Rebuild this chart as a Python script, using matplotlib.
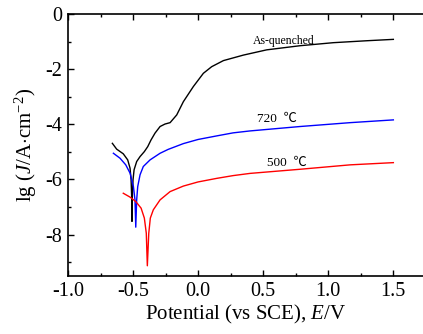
import matplotlib
matplotlib.use('Agg')
import matplotlib.pyplot as plt
from matplotlib.ticker import MultipleLocator

# values (E in V vs SCE, lg J)
aq_E = [-0.659, -0.626, -0.575, -0.541, -0.523, -0.515, -0.510, -0.508, -0.506,
        -0.500, -0.492, -0.472, -0.446, -0.413, -0.387, -0.362, -0.331, -0.292,
        -0.254, -0.215, -0.164, -0.113, -0.036, 0.041, 0.105, 0.195, 0.349,
        0.528, 0.785, 1.041, 1.297, 1.502]
aq_lg = [-4.69, -4.90, -5.07, -5.29, -5.59, -6.01, -6.68, -7.52, -6.68,
         -6.01, -5.65, -5.35, -5.17, -4.99, -4.81, -4.57, -4.32, -4.08,
         -3.99, -3.94, -3.66, -3.18, -2.63, -2.15, -1.91, -1.69, -1.49,
         -1.30, -1.15, -1.04, -0.97, -0.92]

t720_E = [-0.651, -0.600, -0.556, -0.523, -0.497, -0.485, -0.479, -0.472, -0.464,
          -0.446, -0.421, -0.369, -0.292, -0.230, -0.113, 0.000, 0.144, 0.270,
          0.400, 0.785, 1.170, 1.502]
t720_lg = [-5.05, -5.23, -5.47, -5.77, -6.26, -6.74, -7.73, -6.74, -6.26,
           -5.83, -5.53, -5.29, -5.05, -4.91, -4.70, -4.55, -4.42, -4.31,
           -4.24, -4.08, -3.94, -3.84]

t500_E = [-0.575, -0.523, -0.479, -0.438, -0.413, -0.398, -0.390, -0.379, -0.367,
          -0.344, -0.292, -0.215, -0.113, 0.000, 0.144, 0.270, 0.400, 0.785,
          1.170, 1.502]
t500_lg = [-6.50, -6.64, -6.80, -7.04, -7.40, -7.95, -9.13, -7.95, -7.40,
           -7.10, -6.74, -6.44, -6.24, -6.09, -5.96, -5.86, -5.78, -5.63,
           -5.47, -5.39]

plt.rcParams['font.family'] = ['Liberation Serif', 'Noto Sans CJK SC', 'DejaVu Sans']
plt.rcParams['mathtext.fontset'] = 'custom'
plt.rcParams['mathtext.rm'] = 'Liberation Serif'
plt.rcParams['mathtext.it'] = 'Liberation Serif:italic'

fig = plt.figure(figsize=(4.23, 3.34), dpi=100)
ax = fig.add_axes([0.1608, 0.1737, 0.8392, 0.7844])

ax.plot(aq_E, aq_lg, color='black', lw=1.0)
ax.plot(t720_E, t720_lg, color='blue', lw=1.0)
ax.plot(t500_E, t500_lg, color='red', lw=1.0)

ax.text(0.66, -1.09, 'As-quenched', fontsize=8.5, ha='center', va='baseline')
ax.text(0.61, -3.92, '720  ℃', fontsize=9.5, ha='center', va='baseline')
ax.text(0.68, -5.50, '500  ℃', fontsize=9.5, ha='center', va='baseline')

ax.set_xlim(-1.0, 1.73)
ax.set_ylim(-9.5, 0)
ax.xaxis.set_minor_locator(MultipleLocator(0.25))
ax.yaxis.set_minor_locator(MultipleLocator(1))
ax.set_xticks([-1.0, -0.5, 0.0, 0.5, 1.0, 1.5])
ax.set_xticklabels(['-1.0', '-0.5', '0.0', '0.5', '1.0', '1.5'])
ax.set_yticks([0, -2, -4, -6, -8])
ax.set_yticklabels(['0', '-2', '-4', '-6', '-8'])
ax.tick_params(which='both', direction='in', top=True, right=False, labelsize=14.5, width=1)
ax.tick_params(which='major', length=4, pad=4)
ax.tick_params(which='minor', length=2.5)
ax.spines['right'].set_visible(False)
for s in ['left', 'bottom', 'top']:
    ax.spines[s].set_linewidth(1.2)

ax.set_xlabel(r'Potential (vs SCE), $E$/V', fontsize=15, labelpad=2)
ax.set_ylabel(r'lg ($J$/A$\cdot$cm$^{-2}$)', fontsize=15, labelpad=5)

fig.savefig('out.png', dpi=100)
